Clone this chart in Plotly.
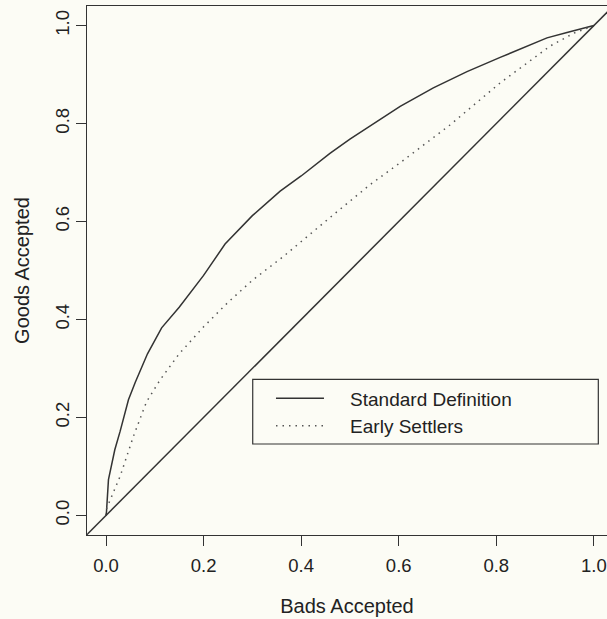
import plotly.graph_objects as go

# Proportion of bads accepted vs proportion of goods accepted
std_bads = [0, 0.001, 0.005, 0.012, 0.018, 0.029, 0.046, 0.06, 0.085, 0.114, 0.15,
            0.2, 0.244, 0.3, 0.357, 0.4, 0.459, 0.5, 0.55, 0.603, 0.671, 0.74,
            0.808, 0.876, 0.904, 0.945, 1.0]
std_goods = [0, 0.008, 0.073, 0.11, 0.134, 0.172, 0.236, 0.272, 0.33, 0.383, 0.425,
             0.49, 0.554, 0.612, 0.662, 0.693, 0.739, 0.768, 0.80, 0.835, 0.873, 0.906,
             0.935, 0.964, 0.975, 0.986, 1.0]

early_bads = [0, 0.0015, 0.015, 0.029, 0.056, 0.083, 0.111, 0.15, 0.2, 0.25, 0.3,
              0.364, 0.459, 0.541, 0.603, 0.705, 0.808, 0.91, 0.96, 1.0]
early_goods = [0, 0.015, 0.047, 0.08, 0.161, 0.232, 0.277, 0.33, 0.385, 0.435, 0.48,
               0.529, 0.608, 0.675, 0.72, 0.797, 0.883, 0.958, 0.985, 1.0]

# reference diagonal (random selection)
diag = [-0.04, 1.04]

tick_vals = [0.0, 0.2, 0.4, 0.6, 0.8, 1.0]
tick_text = ["0.0", "0.2", "0.4", "0.6", "0.8", "1.0"]

INK = "#333333"
BG = "#fcfcf5"
FONT = "Liberation Sans, Arial, Helvetica, sans-serif"
PAD = "\u00a0" * 4  # gap between legend key and label

fig = go.Figure()
fig.add_trace(go.Scatter(x=std_bads, y=std_goods, mode="lines",
                         name=PAD + "Standard Definition",
                         line=dict(color=INK, width=1.5)))
fig.add_trace(go.Scatter(x=early_bads, y=early_goods, mode="lines",
                         name=PAD + "Early Settlers",
                         line=dict(color="#555555", width=1.5, dash="1.5px,5px")))
fig.add_trace(go.Scatter(x=diag, y=diag, mode="lines", showlegend=False,
                         line=dict(color=INK, width=1.5)))

fig.update_layout(
    width=607, height=619,
    margin=dict(l=87, r=0, t=6, b=84),
    paper_bgcolor=BG, plot_bgcolor=BG,
    font=dict(family=FONT, size=19, color="#222222"),
    showlegend=True,
    legend=dict(x=0.3538, y=0.2943, xanchor="left", yanchor="top",
                bgcolor="rgba(0,0,0,0)", borderwidth=0,
                font=dict(size=19), itemwidth=48, tracegroupgap=0),
    xaxis=dict(range=[-0.039, 1.027], tickvals=tick_vals, ticktext=tick_text,
               ticks="outside", ticklen=10, tickcolor=INK, tickwidth=1.2,
               ticklabeloverflow="allow", ticklabelstandoff=4,
               tickfont=dict(size=18.5),
               showline=True, linecolor=INK, linewidth=1.2, mirror=True,
               showgrid=False, zeroline=False,
               title=dict(text="Bads Accepted", standoff=23,
                          font=dict(size=20))),
    yaxis=dict(range=[-0.04, 1.04], tickvals=tick_vals, ticktext=tick_text,
               tickangle=-90, tickfont=dict(size=18.5),
               ticks="outside", ticklen=10, tickcolor=INK, tickwidth=1.2,
               showline=True, linecolor=INK, linewidth=1.2,
               showgrid=False, zeroline=False,
               title=dict(text="Goods Accepted", standoff=16,
                          font=dict(size=20))),
    shapes=[dict(type="rect", xref="paper", yref="paper",
                 x0=0.3187, x1=0.9833, y0=0.172, y1=0.2943,
                 line=dict(color=INK, width=1.2))],
)

fig.write_html("out.html")
